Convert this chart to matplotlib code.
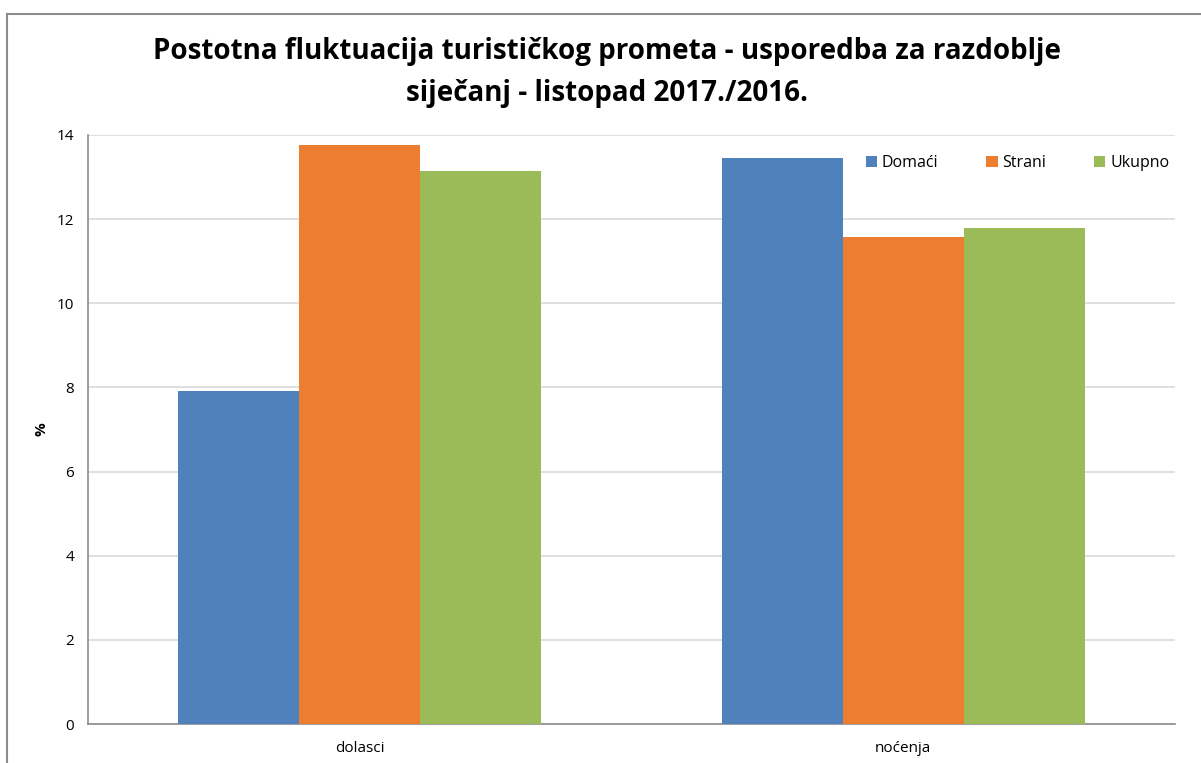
import matplotlib
matplotlib.use("Agg")
import matplotlib.pyplot as plt
from matplotlib.lines import Line2D
from matplotlib.patches import Patch
import numpy as np

plt.rcParams['font.family'] = ['Open Sans', 'DejaVu Sans']

categories = ["dolasci", "noćenja"]
series_names = ["Domaći", "Strani", "Ukupno"]
domaci = [7.92, 13.45]
strani = [13.76, 11.58]
ukupno = [13.14, 11.79]
colors = ["#4F81BD", "#ED7D31", "#9BBB59"]

fig = plt.figure(figsize=(12.01, 7.63), dpi=100)
ax = fig.add_axes([88 / 1201, 1 - 724 / 763, (1175 - 88) / 1201, (724 - 135) / 763])

x = np.arange(len(categories))
w = 0.667 / 3
for i, (vals, col) in enumerate(zip([domaci, strani, ukupno], colors)):
    ax.bar(x + (i - 1) * w, vals, width=w, color=col, zorder=3)

ax.set_xlim(-0.5, 1.5)
ax.set_ylim(0, 14)
ax.set_yticks(range(0, 15, 2))
ax.set_xticks(x)
ax.set_xticklabels(categories)
ax.grid(axis='y', color='#D9D9D9', linewidth=1.2, zorder=0)
for s in ['top', 'right']:
    ax.spines[s].set_visible(False)
for s in ['left', 'bottom']:
    ax.spines[s].set_color('#8C8C8C')
    ax.spines[s].set_linewidth(1.2)
ax.tick_params(axis='both', length=0, labelsize=11, colors='#000000', pad=10)
ax.tick_params(axis='x', pad=12)
ax.set_ylabel('%', fontsize=11, fontweight='bold', labelpad=6)

handles = [Patch(facecolor=c, edgecolor='none') for c in colors]
ax.legend(handles, series_names, ncol=3, frameon=False, fontsize=11.5,
          loc='upper right', bbox_to_anchor=(1.008, 0.99),
          handlelength=0.7, handleheight=0.7, handletextpad=0.3,
          columnspacing=3.0)

fig.text(0.505, 0.905, "Postotna fluktuacija turističkog prometa - usporedba za razdoblje\nsiječanj - listopad 2017./2016.",
         ha='center', va='center', fontsize=20, fontweight='bold', linespacing=1.6)

# outer chart border
fig.add_artist(Line2D([7 / 1201, 1.0], [1 - 14 / 763, 1 - 14 / 763], color='#8C8C8C', linewidth=1.5))
fig.add_artist(Line2D([7 / 1201, 7 / 1201], [0, 1 - 14 / 763], color='#8C8C8C', linewidth=1.5))

fig.savefig("out.png", dpi=100)
